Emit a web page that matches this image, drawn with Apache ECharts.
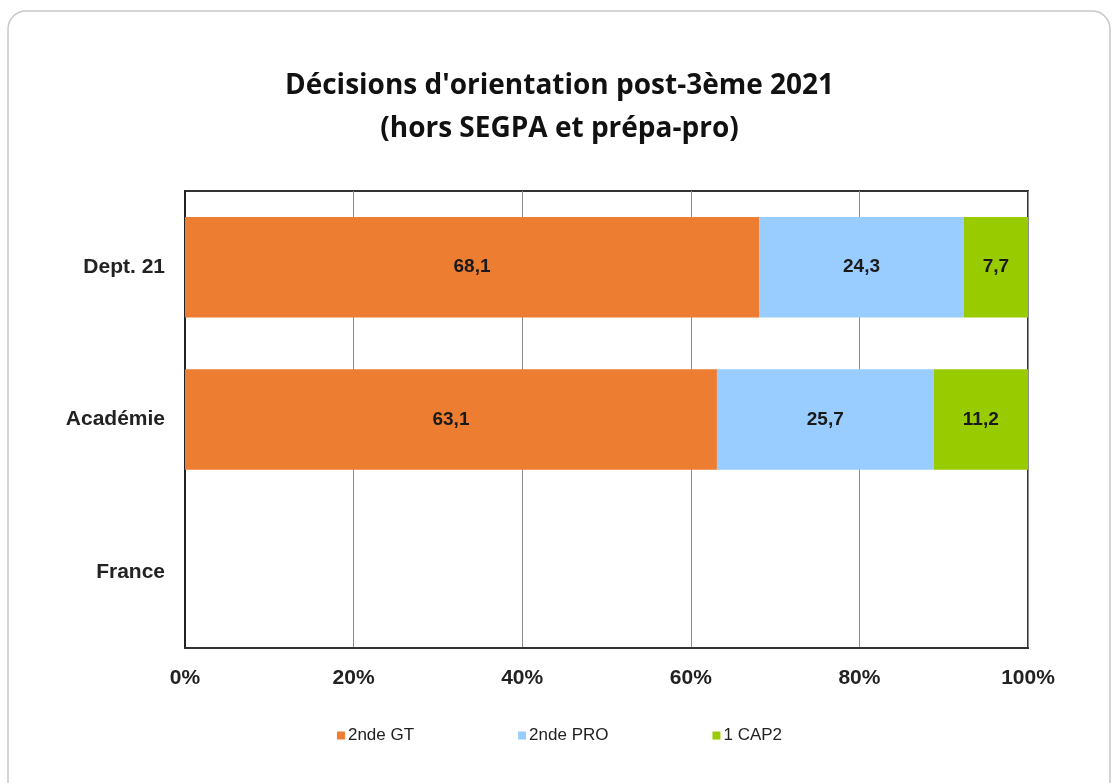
<!DOCTYPE html>
<html>
<head>
<meta charset="utf-8">
<script src="https://cdn.jsdelivr.net/npm/echarts@6/dist/echarts.min.js"></script>
<style>
  html, body { margin: 0; padding: 0; background: #ffffff; }
  #chart { width: 1119px; height: 783px; }
</style>
</head>
<body>
<div id="chart"></div>
<script>
// categories (top to bottom)
const categories = ['Dept. 21', 'Académie', 'France'];
// series values in %
const gtValues = [68.1, 63.1, null];
const proValues = [24.3, 25.7, null];
const capValues = [7.7, 11.2, null];
const xTicks = [0, 20, 40, 60, 80, 100];

const labelStyle = {
  show: true,
  position: 'inside',
  color: '#1a1a1a',
  fontFamily: 'Liberation Sans, Arial, sans-serif',
  fontWeight: 'bold',
  fontSize: 19,
  formatter: p => String(p.value).replace('.', ',')
};

function barSeries(name, data, color) {
  return {
    name: name,
    type: 'bar',
    stack: 'total',
    barWidth: '66%',
    data: data,
    itemStyle: { color: color },
    label: labelStyle,
    emphasis: { disabled: true }
  };
}

const chart = echarts.init(document.getElementById('chart'));
chart.setOption({
  animation: false,
  backgroundColor: '#ffffff',
  graphic: [{
    type: 'rect',
    shape: { x: 8, y: 11, width: 1102, height: 790, r: 18 },
    style: { fill: 'none', stroke: '#c8c8c8', lineWidth: 1.5 },
    z: -1
  }],
  title: {
    text: "Décisions d'orientation post-3ème 2021\n(hors SEGPA et prépa-pro)",
    left: 'center',
    top: 60,
    textStyle: {
      fontFamily: '"Open Sans", Lato, sans-serif',
      fontWeight: 'bold',
      fontSize: 28,
      lineHeight: 43,
      color: '#111111'
    }
  },
  legend: {
    bottom: 34,
    left: 'center',
    itemWidth: 8,
    itemHeight: 8,
    itemGap: 104,
    icon: 'rect',
    textStyle: {
      fontFamily: 'Liberation Sans, Arial, sans-serif',
      fontSize: 17,
      color: '#222222',
      padding: [0, 0, 0, -2]
    },
    data: ['2nde GT', '2nde PRO', '1 CAP2']
  },
  grid: { left: 185, right: 91, top: 191, bottom: 135, show: true, borderColor: '#333333', borderWidth: 2 },
  xAxis: {
    type: 'value',
    min: 0,
    max: 100,
    interval: 20,
    axisLine: { show: true, lineStyle: { color: '#333333', width: 2 } },
    axisTick: { show: false },
    splitLine: { show: true, lineStyle: { color: '#8c8c8c', width: 1 } },
    axisLabel: {
      margin: 20,
      color: '#222222',
      fontFamily: 'Liberation Sans, Arial, sans-serif',
      fontWeight: 'bold',
      fontSize: 21,
      customValues: xTicks,
      formatter: v => v + '%'
    }
  },
  yAxis: {
    type: 'category',
    inverse: true,
    data: categories,
    axisLine: { show: true, lineStyle: { color: '#222222', width: 2 } },
    axisTick: { show: false },
    axisLabel: {
      margin: 20,
      color: '#222222',
      fontFamily: 'Liberation Sans, Arial, sans-serif',
      fontWeight: 'bold',
      fontSize: 21
    }
  },
  series: [
    barSeries('2nde GT', gtValues, '#ed7d31'),
    barSeries('2nde PRO', proValues, '#99ccff'),
    barSeries('1 CAP2', capValues, '#99cc00')
  ]
});
</script>
</body>
</html>
